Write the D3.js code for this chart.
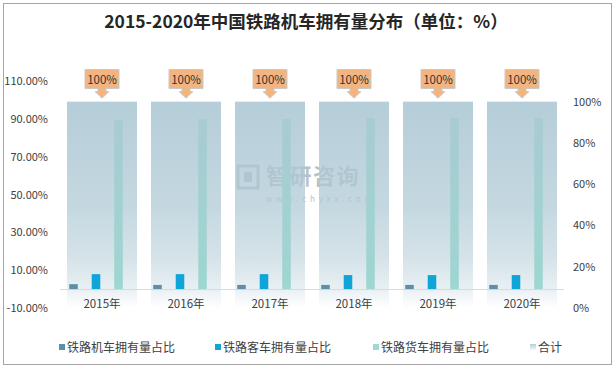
<!DOCTYPE html>
<html><head><meta charset="utf-8">
<script src="https://cdn.jsdelivr.net/npm/d3@7"></script>
<style>
html,body{margin:0;padding:0;background:#fff;}
svg{display:block;}
text{font-family:"Noto Sans CJK SC","Noto Sans",sans-serif;}
</style></head>
<body>
<svg id="chart" width="616" height="369"></svg>
<script>
const years = ["2015年","2016年","2017年","2018年","2019年","2020年"];
const seriesNames = ["铁路机车拥有量占比","铁路客车拥有量占比","铁路货车拥有量占比"];
const locoShare = [2.6, 2.2, 2.2, 2.2, 2.2, 2.2];
const passShare = [7.9, 7.9, 7.9, 7.4, 7.4, 7.4];
const freightShare = [89.5, 89.9, 89.9, 90.4, 90.4, 90.4];
const totalShare = [100, 100, 100, 100, 100, 100];
const totalName = "合计";
const leftTicks = [-10, 10, 30, 50, 70, 90, 110];
const rightTicks = [0, 20, 40, 60, 80, 100];
const title = "2015-2020年中国铁路机车拥有量分布（单位：%）";

const seriesData = [locoShare, passShare, freightShare];
const colors = ["#5e8fa8", "#0fa5d9", "url(#freightGrad)"];
const legendColors = ["#5e8fa8", "#0fa5d9", "#a0d8d4", "url(#legendTotalGrad)"];

const svg = d3.select("#chart");
const defs = svg.append("defs");

const tg = defs.append("linearGradient").attr("id","totalGrad").attr("x1",0).attr("y1",0).attr("x2",0).attr("y2",1);
[[0,0.9],[0.5,0.72],[0.77,0.5],[0.91,0.27],[1,0]].forEach(([o,a])=>{
  tg.append("stop").attr("offset",o).attr("stop-color","rgb(173,200,212)").attr("stop-opacity",a);
});
const fg = defs.append("linearGradient").attr("id","freightGrad").attr("x1",0).attr("y1",0).attr("x2",0).attr("y2",1);
fg.append("stop").attr("offset",0).attr("stop-color","#a8cbd2");
fg.append("stop").attr("offset",1).attr("stop-color","#9ed6d1");
const lg = defs.append("linearGradient").attr("id","legendTotalGrad").attr("x1",0).attr("y1",0).attr("x2",0).attr("y2",1);
lg.append("stop").attr("offset",0).attr("stop-color","#b5ced8");
lg.append("stop").attr("offset",1).attr("stop-color","#f2f6f8");

svg.append("rect").attr("x",3.5).attr("y",3.5).attr("width",608).attr("height",361)
  .attr("fill","#fff").attr("stroke","#a6a6a6").attr("stroke-width",1);

svg.append("text").attr("x",306).attr("y",28).attr("text-anchor","middle")
  .attr("font-size",17.5).attr("font-weight","bold").attr("fill","#262626").text(title);

const x = d3.scaleBand().domain(years).range([60,564]).padding(0);
const xTotal = d3.scaleBand().domain(years).range([60,564]).paddingInner(14/84).paddingOuter(7/84);
const xSub = d3.scaleBand().domain(seriesNames).range([2.25,69.75]).paddingInner(0.62).paddingOuter(0.31);
const yL = d3.scaleLinear().domain([-10,110]).range([308,81]);
const yR = d3.scaleLinear().domain([0,110]).range([308,81]);

// watermark
const wm = svg.append("g").attr("opacity",0.55);
wm.append("rect").attr("x",238).attr("y",166).attr("width",20).attr("height",22).attr("fill","none")
  .attr("stroke","#7f8f9c").attr("stroke-width",3);
wm.append("rect").attr("x",244).attr("y",172).attr("width",8).attr("height",10).attr("fill","#7f8f9c");
wm.append("text").attr("x",266).attr("y",184).attr("font-size",22).attr("font-weight","bold")
  .attr("fill","#7f8f9c").attr("letter-spacing",1.5).text("智研咨询");
wm.append("text").attr("x",266).attr("y",202).attr("font-size",8)
  .attr("fill","#7f8f9c").attr("letter-spacing",3.8).text("www.chyxx.com");

svg.append("g").selectAll("rect").data(years).join("rect")
  .attr("x",d=>xTotal(d)).attr("width",xTotal.bandwidth())
  .attr("y",(d,i)=>yR(totalShare[i])).attr("height",(d,i)=>yR(0)-yR(totalShare[i]))
  .attr("fill","url(#totalGrad)");

svg.append("line").attr("x1",60).attr("x2",564).attr("y1",Math.round(yL(0))+0.5).attr("y2",Math.round(yL(0))+0.5)
  .attr("stroke","#d9d9d9").attr("stroke-width",1);

seriesNames.forEach((s,si)=>{
  svg.append("g").selectAll("rect").data(years).join("rect")
    .attr("x",d=>x(d)+xSub(s)).attr("width",xSub.bandwidth())
    .attr("y",(d,i)=>yL(seriesData[si][i])).attr("height",(d,i)=>yL(0)-yL(seriesData[si][i]))
    .attr("fill",colors[si]);
});

const lab = svg.append("g").selectAll("g").data(years).join("g")
  .attr("transform",d=>`translate(${xTotal(d)+xTotal.bandwidth()/2},0)`);
lab.append("path").attr("d",(d,i)=>{
  const yb = yR(totalShare[i]) - 3.5;
  return `M-17,69.5 H17 V88.5 H4 V91.5 H7 L0,${yb} L-7,91.5 H-4 V88.5 H-17 Z`;
}).attr("fill","#f2b581").attr("stroke","#c9c9c9").attr("stroke-width",1);
lab.append("text").attr("y",83.5).attr("text-anchor","middle").attr("font-size",11.5)
  .attr("fill","#333").text((d,i)=>totalShare[i]+"%");

const axL = svg.append("g").attr("transform","translate(48,0)")
  .call(d3.axisLeft(yL).tickValues(leftTicks).tickSize(0).tickPadding(0).tickFormat(d=>d.toFixed(2)+"%"));
axL.select(".domain").remove();
axL.selectAll("text").attr("font-size",11).attr("fill","#404040").attr("font-family","'Noto Sans',sans-serif");

const axR = svg.append("g").attr("transform","translate(573,0)")
  .call(d3.axisRight(yR).tickValues(rightTicks).tickSize(0).tickPadding(0).tickFormat(d=>d+"%"));
axR.select(".domain").remove();
axR.selectAll("text").attr("font-size",11).attr("fill","#404040").attr("font-family","'Noto Sans',sans-serif");

const axX = svg.append("g").attr("transform","translate(0,300)")
  .call(d3.axisBottom(x).tickSize(0).tickPadding(0));
axX.select(".domain").remove();
axX.selectAll("text").attr("font-size",11.5).attr("fill","#404040");

const legendItems = seriesNames.concat([totalName]);
const legendX = [59, 215, 373, 530];
const lgG = svg.append("g").selectAll("g").data(legendItems).join("g")
  .attr("transform",(d,i)=>`translate(${legendX[i]},347)`);
lgG.append("rect").attr("x",0).attr("y",-3).attr("width",6).attr("height",6)
  .attr("fill",(d,i)=>legendColors[i]);
lgG.append("text").attr("x",8).attr("y",4.5).attr("font-size",12).attr("fill","#404040").text(d=>d);
</script>
</body></html>
